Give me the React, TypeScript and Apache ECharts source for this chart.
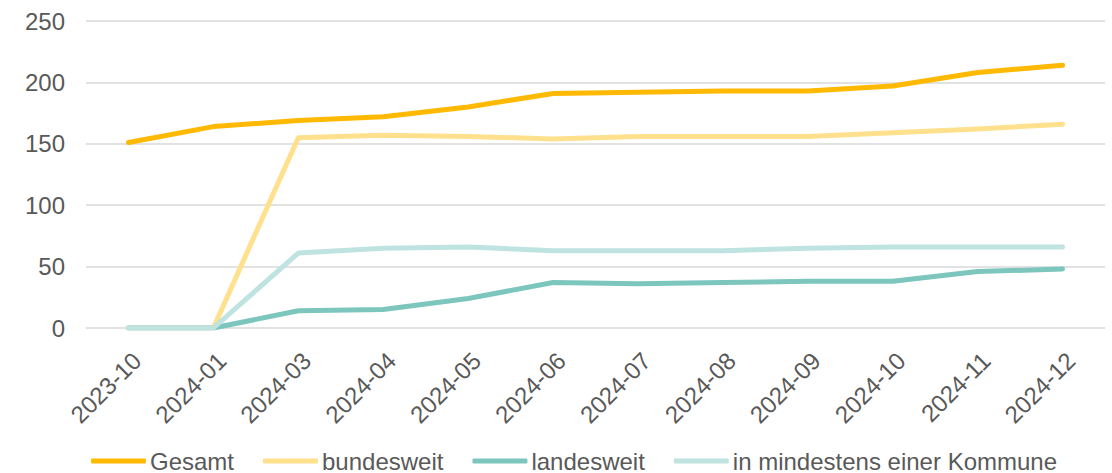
import React, { useEffect, useRef } from "react";
import * as echarts from "echarts";

const categories = ["2023-10", "2024-01", "2024-03", "2024-04", "2024-05", "2024-06", "2024-07", "2024-08", "2024-09", "2024-10", "2024-11", "2024-12"];
const gesamt = [151, 164, 169, 172, 180, 191, 192, 193, 193, 197, 208, 214];
const bundesweit = [0, 0, 155, 157, 156, 154, 156, 156, 156, 159, 162, 166];
const landesweit = [0, 0, 14, 15, 24, 37, 36, 37, 38, 38, 46, 48];
const kommune = [0, 0, 61, 65, 66, 63, 63, 63, 65, 66, 66, 66];
const seriesNames = ["Gesamt", "bundesweit", "landesweit", "in mindestens einer Kommune"];
const colors = ["#FFB900", "#FFE08C", "#7CC6BE", "#BEE3E0"];

export default function App() {
  const ref = useRef<HTMLDivElement>(null);
  useEffect(() => {
    if (!ref.current) return;
    const chart = echarts.init(ref.current, null, { renderer: "svg" });
    const font = "'Liberation Sans', Arial, sans-serif";
    const data = [gesamt, bundesweit, landesweit, kommune];
    chart.setOption({
      animation: false,
      textStyle: { fontFamily: font },
      grid: { left: 86, right: 7, top: 21, bottom: 145, containLabel: false },
      legend: {
        top: 449,
        left: 91,
        icon: "roundRect",
        itemWidth: 55,
        itemHeight: 5,
        itemGap: 29,
        padding: 0,
        textStyle: { fontSize: 24, color: "#595959", fontFamily: font, padding: [0, 0, 0, -1] },
        data: seriesNames,
      },
      xAxis: {
        type: "category",
        data: categories,
        boundaryGap: true,
        axisLine: { show: false },
        axisTick: { show: false },
        axisLabel: { rotate: 45, fontSize: 24, color: "#595959", margin: 20, interval: 0, fontFamily: font, verticalAlign: "top" },
      },
      yAxis: {
        type: "value",
        min: 0,
        max: 250,
        interval: 50,
        axisLine: { show: false },
        axisTick: { show: false },
        axisLabel: { fontSize: 24, color: "#595959", margin: 21, fontFamily: font },
        splitLine: { lineStyle: { color: "#d9d9d9", width: 1.5 } },
      },
      series: seriesNames.map((name, i) => ({
        name,
        type: "line",
        data: data[i],
        symbol: "none",
        showSymbol: false,
        color: colors[i],
        lineStyle: { width: 5, color: colors[i], cap: "round", join: "round" },
      })),
    });
    return () => chart.dispose();
  }, []);
  return <div ref={ref} style={{ width: 1112, height: 473, position: "absolute", left: 0, top: 0 }} />;
}
